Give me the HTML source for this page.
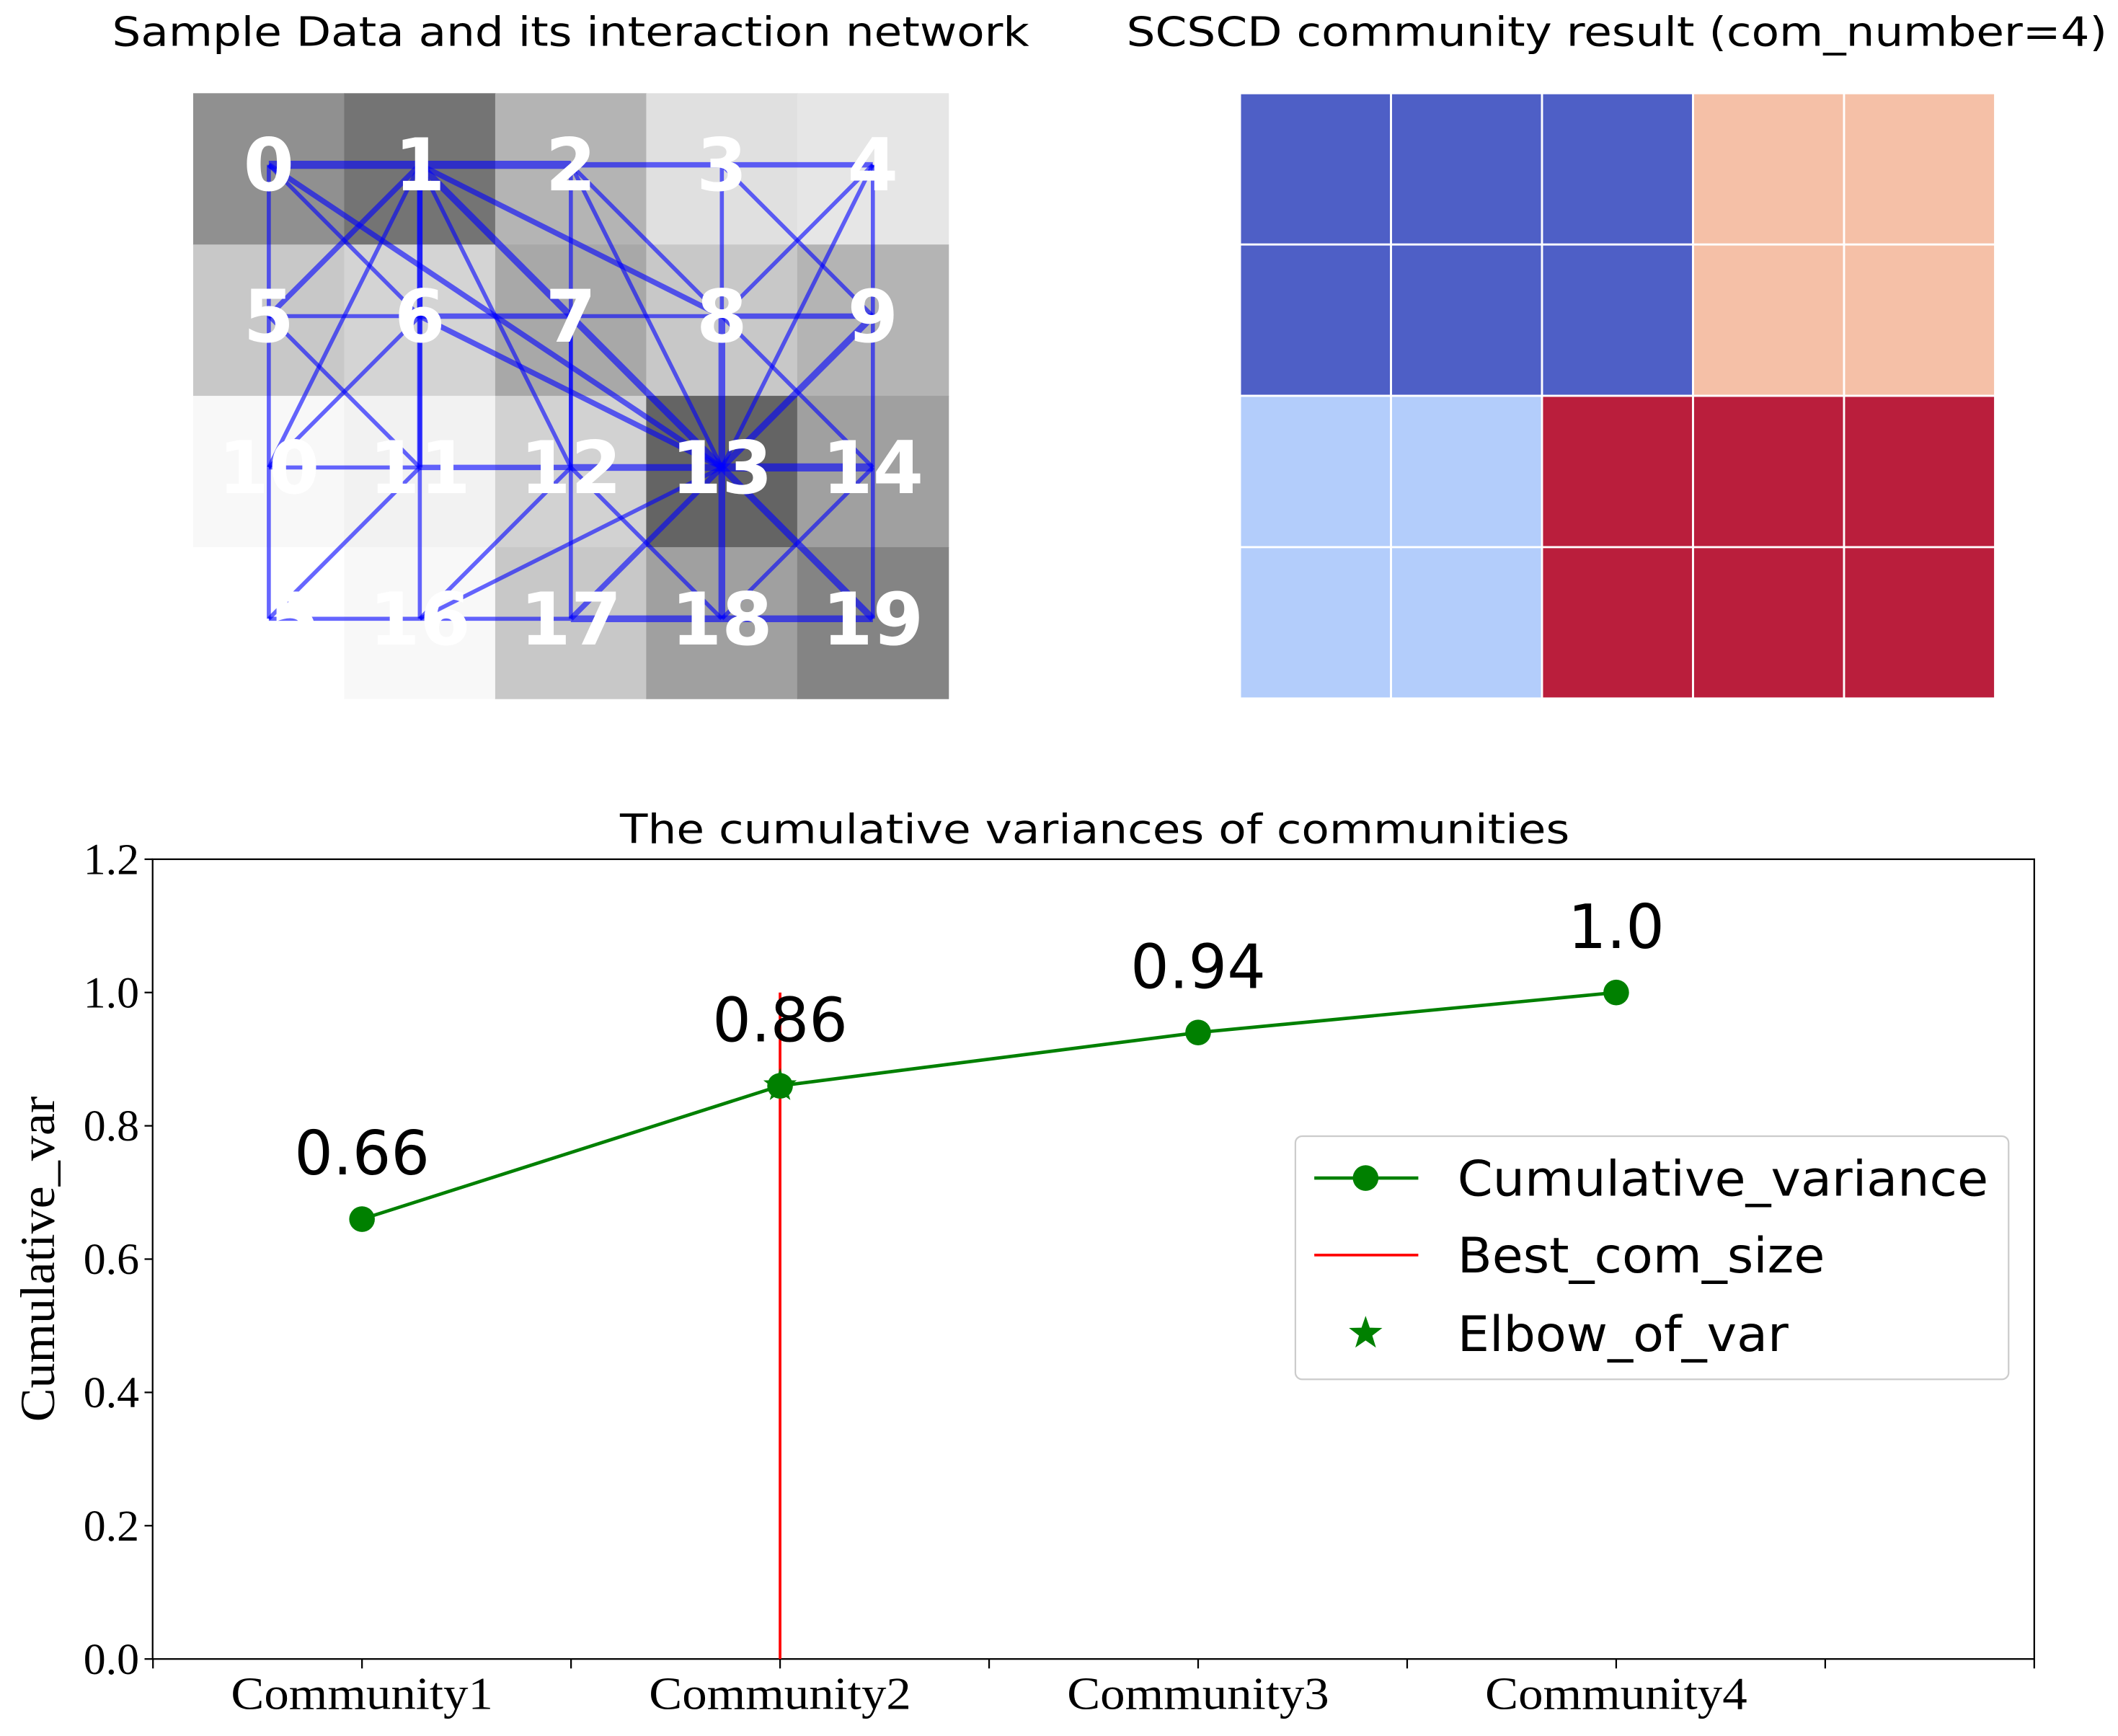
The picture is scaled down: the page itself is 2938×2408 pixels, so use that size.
<!DOCTYPE html>
<html><head><meta charset="utf-8"><style>
html,body{margin:0;padding:0;background:#fff;}
svg{display:block;}
</style></head><body>
<svg id="fig" width="2938" height="2408" viewBox="0 0 1568 1285" preserveAspectRatio="none" xmlns="http://www.w3.org/2000/svg">
<rect width="1568" height="1285" fill="#fff"/>
<text x="83" y="34" font-family="DejaVu Sans, sans-serif" font-size="30" textLength="679" lengthAdjust="spacingAndGlyphs">Sample Data and its interaction network</text>
<text x="834" y="34" font-family="DejaVu Sans, sans-serif" font-size="30" textLength="726" lengthAdjust="spacingAndGlyphs">SCSCD community result (com_number=4)</text>
<g id="left"></g>
<g id="edges"></g>
<g id="labels"></g>
<g id="right"></g>
<g id="chart"></g>
</svg>
<script>
const NS="http://www.w3.org/2000/svg";
const grays=[[144,116,180,224,230],[200,212,168,200,180],[248,242,210,100,160],[255,248,200,160,132]];
const edgesList=[[0,1,6],[1,2,6],[2,3,4],[3,4,4],[0,5,3],[5,10,3],[10,15,3],[0,6,3],[0,13,4],[1,5,4],[1,6,4],[1,10,3],[1,11,4],[1,12,3],[1,13,5],[1,8,4],[2,7,3],[2,8,3],[2,13,3],[3,8,3],[3,9,3],[4,8,3],[4,13,3],[4,9,3],[5,6,3],[6,7,4],[7,8,3],[8,9,4],[5,11,3],[6,10,3],[6,11,3],[6,13,4],[7,12,3],[7,17,3],[8,13,5],[8,14,3],[9,13,5],[9,14,3],[10,11,3],[11,12,4],[12,13,5],[13,14,6],[11,15,3],[11,16,3],[12,16,3],[12,18,3],[13,16,3],[13,17,4],[13,18,5],[13,19,5],[14,18,3],[14,19,3],[15,16,3],[16,17,3],[17,18,5],[18,19,5]];
const communities=[[0,0,0,2,2],[0,0,0,2,2],[1,1,3,3,3],[1,1,3,3,3]];
const comColors=["#4e5fc6","#b3cdfb","#f5c0a7","#ba1e3c"];
const categories=["Community1","Community2","Community3","Community4"];
const values=[0.66,0.86,0.94,1.0];
const valueLabels=["0.66","0.86","0.94","1.0"];
const yTicks=[0,0.2,0.4,0.6,0.8,1.0,1.2];
const yTickLabels=["0.0","0.2","0.4","0.6","0.8","1.0","1.2"];
const bestIndex=1;
const elbowIndex=1;

function mk(tag,attrs,parent){const e=document.createElementNS(NS,tag);for(const k in attrs)e.setAttribute(k,attrs[k]);parent.appendChild(e);return e;}
const L=document.getElementById('left'),E=document.getElementById('edges'),LB=document.getElementById('labels'),R=document.getElementById('right'),C=document.getElementById('chart');
const cw=111.8,ch=112;
for(let r=0;r<4;r++)for(let c=0;c<5;c++){
  const g=grays[r][c];
  const el=mk('rect',{x:143+c*cw,y:69+r*ch,width:cw+0.5,height:ch+0.5,fill:`rgb(${g},${g},${g})`},L);
  
  
  const e2=mk('rect',{x:918+c*cw,y:69+r*ch,width:cw,height:ch,fill:comColors[communities[r][c]],stroke:'#fff','stroke-width':1.5},R);
  
  
}
function nodePos(n){const r=Math.floor(n/5),c=n%5;return [199+c*cw,122+r*ch];}
edgesList.forEach(([a,b,w])=>{
  const p=nodePos(a),q=nodePos(b);
  const el=mk('line',{x1:p[0],y1:p[1],x2:q[0],y2:q[1],stroke:'#0000ff','stroke-opacity':0.6,'stroke-width':w},E);
  
  
});
for(let n=0;n<20;n++){
  const p=nodePos(n);
  const t=mk('text',{x:p[0],y:p[1]+19,'text-anchor':'middle','font-family':'DejaVu Sans, sans-serif','font-weight':'bold','font-size':54,fill:'#fff'},LB);
  t.textContent=n;
  
  
}
// chart
const X0=113,X1=1506,Y0=1228,Y1=636;
const xs=i=>268+i*309.5;
const ys=v=>Y0-(v/1.2)*(Y0-Y1);
const title=mk('text',{x:459,y:624,'font-family':'DejaVu Sans, sans-serif','font-size':30,textLength:703,lengthAdjust:'spacingAndGlyphs'},C);
title.textContent='The cumulative variances of communities';


const frame=mk('rect',{x:X0,y:Y1,width:X1-X0,height:Y0-Y1,fill:'none',stroke:'#000','stroke-width':1.2},C);


yTicks.forEach((v,i)=>{
  const y=ys(v);
  mk('line',{x1:X0-6,y1:y,x2:X0,y2:y,stroke:'#000','stroke-width':1.2},C);
  const t=mk('text',{x:X0-10,y:y+11,'text-anchor':'end','font-family':'Liberation Serif, serif','font-size':33},C);
  t.textContent=yTickLabels[i];
  
  
});
for(let k=-1;k<=8;k++){const x=268+k*154.75;mk('line',{x1:x,y1:Y0,x2:x,y2:Y0+7,stroke:'#000','stroke-width':1.2},C);}
categories.forEach((c,i)=>{
  const t=mk('text',{x:xs(i),y:Y0+37,'text-anchor':'middle','font-family':'Liberation Serif, serif','font-size':34,textLength:194,lengthAdjust:'spacingAndGlyphs'},C);
  t.textContent=c;
  
  
});
const yl=mk('text',{x:0,y:0,transform:`translate(40,932) rotate(-90)`,'text-anchor':'middle','font-family':'Liberation Serif, serif','font-size':36,textLength:241,lengthAdjust:'spacingAndGlyphs'},C);
yl.textContent='Cumulative_var';


const red=mk('line',{x1:xs(bestIndex),y1:ys(0),x2:xs(bestIndex),y2:ys(1.0),stroke:'#ff0000','stroke-width':2},C);


const pl=mk('polyline',{points:values.map((v,i)=>xs(i)+','+ys(v)).join(' '),fill:'none',stroke:'#008000','stroke-width':2.5},C);


function star(cx,cy,R,parent){let p=[];for(let i=0;i<10;i++){const a=-Math.PI/2+i*Math.PI/5,rr=i%2?R*0.4:R;p.push((cx+rr*Math.cos(a))+','+(cy+rr*Math.sin(a)));}return mk('polygon',{points:p.join(' '),fill:'#008000'},parent);}
values.forEach((v,i)=>{
  const d=mk('circle',{cx:xs(i),cy:ys(v),r:9.5,fill:'#008000'},C);
  
  
  const t=mk('text',{x:xs(i),y:ys(v)-33,'text-anchor':'middle','font-family':'DejaVu Sans, sans-serif','font-size':45},C);
  t.textContent=valueLabels[i];
  
  
});
const st=star(xs(elbowIndex),ys(values[elbowIndex]),13,C);


// legend
const lg=mk('g',{},C);


mk('rect',{x:959,y:841,width:528,height:180,rx:5,fill:'#fff',stroke:'#ccc','stroke-width':1.2},lg);
mk('line',{x1:973,y1:872,x2:1050,y2:872,stroke:'#008000','stroke-width':2.5},lg);
mk('circle',{cx:1011,cy:872,r:9.5,fill:'#008000'},lg);
mk('line',{x1:973,y1:929,x2:1050,y2:929,stroke:'#ff0000','stroke-width':2},lg);
star(1011,987,13,lg);
[['Cumulative_variance',872,393],['Best_com_size',929,272],['Elbow_of_var',987,245]].forEach(([s,y,w])=>{
  const t=mk('text',{x:1079,y:y+13,'font-family':'DejaVu Sans, sans-serif','font-size':36,textLength:w,lengthAdjust:'spacingAndGlyphs'},lg);
  t.textContent=s;
  
  
});
</script>
</body></html>
